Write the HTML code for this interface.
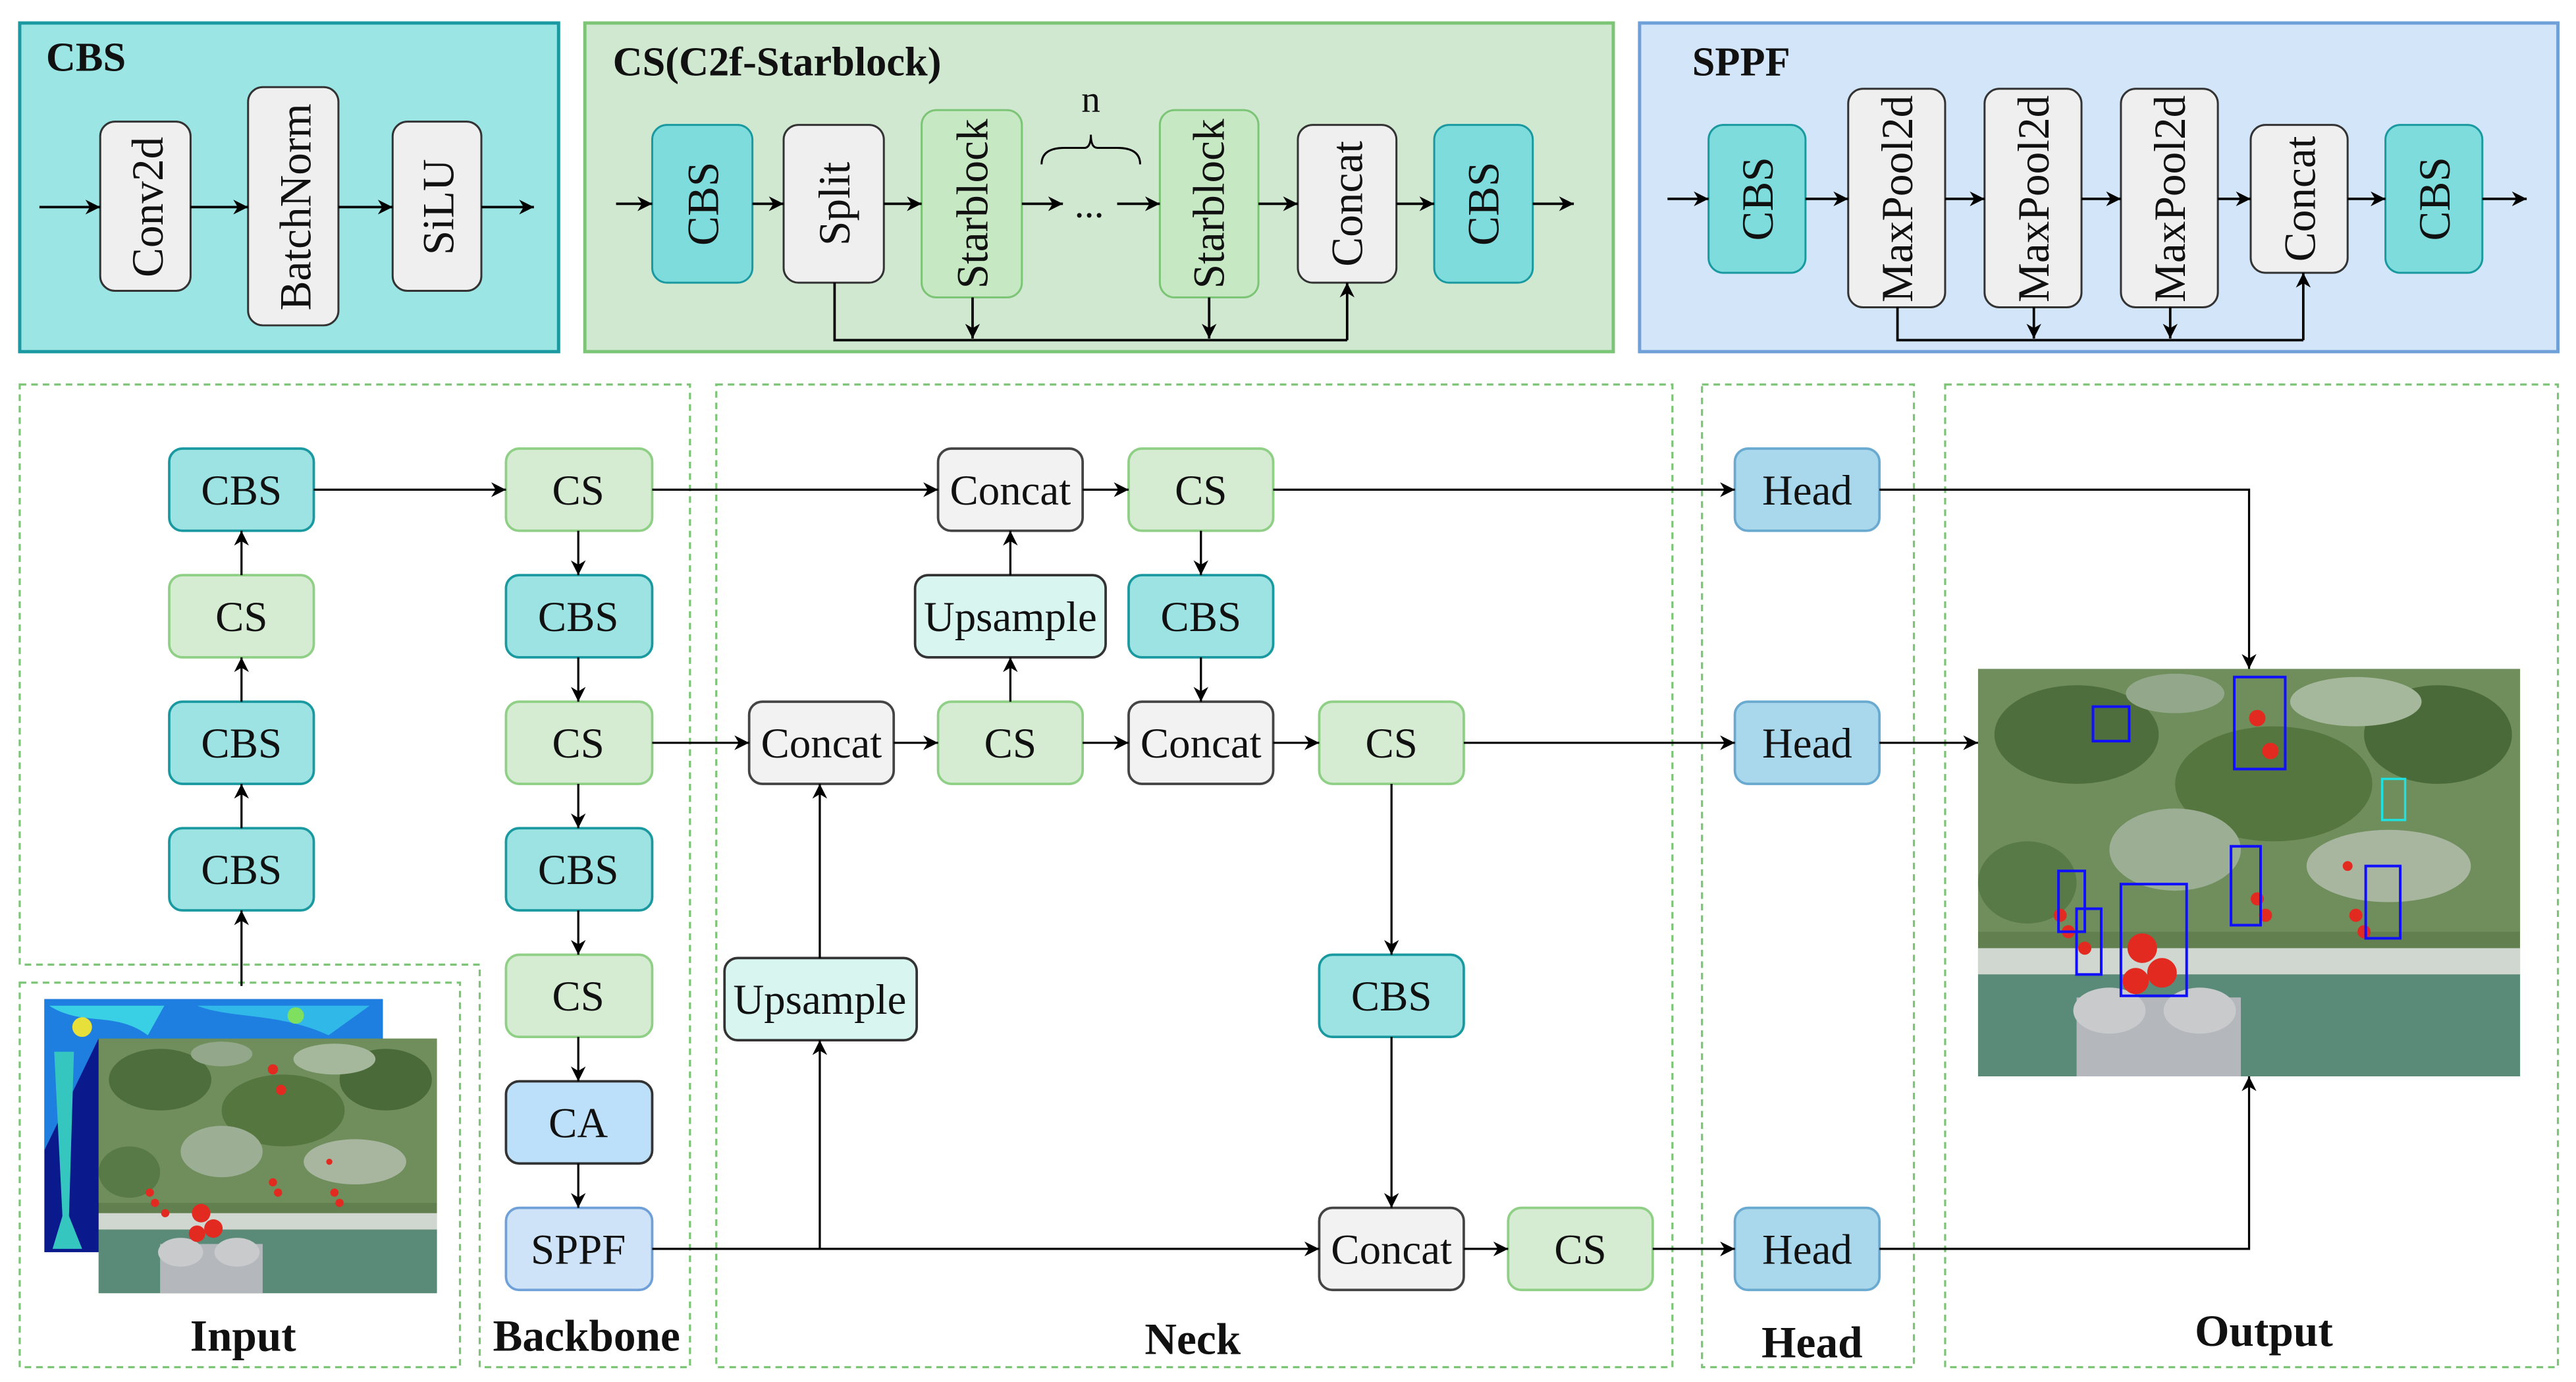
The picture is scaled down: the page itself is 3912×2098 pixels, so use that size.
<!DOCTYPE html>
<html><head><meta charset="utf-8"><style>
html,body{margin:0;padding:0;background:#fff;}
svg{display:block;}
text{font-family:"Liberation Serif","Times New Roman",serif;fill:#111;}
</style></head><body>
<svg width="3912" height="2098" viewBox="0 0 1568 841" preserveAspectRatio="none" xmlns="http://www.w3.org/2000/svg" font-family="Liberation Serif, serif">
<defs>
<marker id="a" viewBox="0 0 10 10" refX="10" refY="5" markerWidth="10" markerHeight="9" markerUnits="userSpaceOnUse" orient="auto"><path d="M0,0 L10,5 L0,10 L3,5 z" fill="#000"/></marker>
<symbol id="photo" viewBox="0 0 330 248" preserveAspectRatio="none">
<rect width="330" height="248" fill="#62804f"/>
<rect width="330" height="160" fill="#6f8e5c"/>
<ellipse cx="60" cy="40" rx="50" ry="30" fill="#4f6e3e"/>
<ellipse cx="180" cy="70" rx="60" ry="35" fill="#56763f"/>
<ellipse cx="280" cy="40" rx="45" ry="30" fill="#4a6a3a"/>
<ellipse cx="120" cy="110" rx="40" ry="25" fill="#9cae94"/>
<ellipse cx="250" cy="120" rx="50" ry="22" fill="#a8b6a0"/>
<ellipse cx="30" cy="130" rx="30" ry="25" fill="#587a46"/>
<ellipse cx="230" cy="20" rx="40" ry="15" fill="#a6b89c"/>
<ellipse cx="120" cy="15" rx="30" ry="12" fill="#93a88a"/>
<rect y="170" width="330" height="16" fill="#d0d6d0"/>
<rect y="186" width="330" height="62" fill="#5a8a78"/>
<rect x="60" y="200" width="100" height="48" fill="#b4b8bc"/>
<ellipse cx="80" cy="208" rx="22" ry="14" fill="#c8cacc"/>
<ellipse cx="135" cy="208" rx="22" ry="14" fill="#c8cacc"/>
<g fill="#e22a20">
<circle cx="100" cy="170" r="9"/><circle cx="112" cy="185" r="9"/><circle cx="96" cy="190" r="8"/>
<circle cx="50" cy="150" r="4"/><circle cx="55" cy="160" r="4"/><circle cx="170" cy="140" r="4"/><circle cx="175" cy="150" r="4"/>
<circle cx="230" cy="150" r="4"/><circle cx="235" cy="160" r="4"/><circle cx="170" cy="30" r="5"/><circle cx="178" cy="50" r="5"/>
<circle cx="65" cy="170" r="4"/><circle cx="225" cy="120" r="3"/></g>
</symbol>
</defs>

<rect x="12" y="14" width="328" height="200" fill="#9ce5e5" stroke="#1a9aa0" stroke-width="2"/>
<rect x="356" y="14" width="626" height="200" fill="#d0e8d0" stroke="#7cc576" stroke-width="2"/>
<rect x="998" y="14" width="559" height="200" fill="#d3e5f9" stroke="#6fa0d8" stroke-width="2"/>
<text x="28" y="43" font-size="25" font-weight="bold">CBS</text>
<text x="373" y="46" font-size="25" font-weight="bold">CS(C2f-Starblock)</text>
<text x="1030" y="46" font-size="25" font-weight="bold">SPPF</text>

<g stroke="#333" stroke-width="1.2">
<rect x="61" y="74" width="55" height="103" rx="9" fill="#efefef"/>
<rect x="151" y="53" width="55" height="145" rx="9" fill="#efefef"/>
<rect x="239" y="74" width="54" height="103" rx="9" fill="#efefef"/>
<rect x="397" y="76" width="61" height="96" rx="9" fill="#7fdcdc" stroke="#1a9aa0"/>
<rect x="477" y="76" width="61" height="96" rx="9" fill="#efefef"/>
<rect x="561" y="67" width="61" height="114" rx="9" fill="#c6e8c2" stroke="#7cc576"/>
<rect x="706" y="67" width="60" height="114" rx="9" fill="#c6e8c2" stroke="#7cc576"/>
<rect x="790" y="76" width="60" height="96" rx="9" fill="#efefef"/>
<rect x="873" y="76" width="60" height="96" rx="9" fill="#7fdcdc" stroke="#1a9aa0"/>
<rect x="1040" y="76" width="59" height="90" rx="9" fill="#7fdcdc" stroke="#1a9aa0"/>
<rect x="1125" y="54" width="59" height="133" rx="9" fill="#efefef"/>
<rect x="1208" y="54" width="59" height="133" rx="9" fill="#efefef"/>
<rect x="1291" y="54" width="59" height="133" rx="9" fill="#efefef"/>
<rect x="1370" y="76" width="59" height="90" rx="9" fill="#efefef"/>
<rect x="1452" y="76" width="59" height="90" rx="9" fill="#7fdcdc" stroke="#1a9aa0"/>
</g>
<g font-size="27" text-anchor="middle">
<text transform="translate(99,126) rotate(-90)">Conv2d</text>
<text transform="translate(189,126) rotate(-90)">BatchNorm</text>
<text transform="translate(276,126) rotate(-90)">SiLU</text>
<text transform="translate(437,124) rotate(-90)">CBS</text>
<text transform="translate(517,124) rotate(-90)">Split</text>
<text transform="translate(601,124) rotate(-90)">Starblock</text>
<text transform="translate(745,124) rotate(-90)">Starblock</text>
<text transform="translate(829,124) rotate(-90)">Concat</text>
<text transform="translate(912,124) rotate(-90)">CBS</text>
<text transform="translate(1079,121) rotate(-90)">CBS</text>
<text transform="translate(1164,121) rotate(-90)">MaxPool2d</text>
<text transform="translate(1247,121) rotate(-90)">MaxPool2d</text>
<text transform="translate(1330,121) rotate(-90)">MaxPool2d</text>
<text transform="translate(1409,121) rotate(-90)">Concat</text>
<text transform="translate(1491,121) rotate(-90)">CBS</text>
</g>
<text x="663" y="132" font-size="24" text-anchor="middle">...</text>
<text x="664" y="68" font-size="23" text-anchor="middle">n</text>
<path d="M634,100 Q634,90 648,90 L660,90 Q664,90 664,82 Q664,90 668,90 L680,90 Q694,90 694,100" fill="none" stroke="#000" stroke-width="1.2"/>

<g stroke="#000" stroke-width="1.5" fill="none" marker-end="url(#a)">
<line x1="24" y1="126" x2="61" y2="126"/><line x1="116" y1="126" x2="151" y2="126"/>
<line x1="206" y1="126" x2="239" y2="126"/><line x1="293" y1="126" x2="325" y2="126"/>
<line x1="375" y1="124" x2="397" y2="124"/><line x1="458" y1="124" x2="477" y2="124"/>
<line x1="538" y1="124" x2="561" y2="124"/><line x1="622" y1="124" x2="647" y2="124"/>
<line x1="680" y1="124" x2="706" y2="124"/><line x1="766" y1="124" x2="790" y2="124"/>
<line x1="850" y1="124" x2="873" y2="124"/><line x1="933" y1="124" x2="958" y2="124"/>
<line x1="592" y1="181" x2="592" y2="206"/><line x1="736" y1="181" x2="736" y2="206"/>
<line x1="820" y1="207" x2="820" y2="172"/>
<line x1="1015" y1="121" x2="1040" y2="121"/><line x1="1099" y1="121" x2="1125" y2="121"/>
<line x1="1184" y1="121" x2="1208" y2="121"/><line x1="1267" y1="121" x2="1291" y2="121"/>
<line x1="1350" y1="121" x2="1370" y2="121"/><line x1="1429" y1="121" x2="1452" y2="121"/>
<line x1="1511" y1="121" x2="1538" y2="121"/>
<line x1="1238" y1="187" x2="1238" y2="206"/><line x1="1321" y1="187" x2="1321" y2="206"/>
<line x1="1402" y1="207" x2="1402" y2="166"/>
</g>
<g stroke="#000" stroke-width="1.5" fill="none">
<polyline points="508,172 508,207 820,207"/>
<polyline points="1155,187 1155,207 1402,207"/>
</g>

<g fill="none" stroke="#7cc576" stroke-width="1.3" stroke-dasharray="4,3">
<path d="M12,234 H420 V832 H292 V587 H12 Z"/>
<rect x="12" y="598" width="268" height="234"/>
<rect x="436" y="234" width="582" height="598"/>
<rect x="1036" y="234" width="129" height="598"/>
<rect x="1184" y="234" width="373" height="598"/>
</g>

<rect x="27" y="608" width="206" height="154" fill="#0a1a8c"/>
<path d="M27,608 H233 V640 C200,650 170,630 140,645 C110,655 80,640 60,632 L27,700 Z" fill="#1f7fe0"/>
<path d="M30,612 C50,625 70,615 90,630 L100,612 Z" fill="#39d0e6"/>
<path d="M120,612 C140,620 170,616 200,630 L225,612 Z" fill="#2fb8e8"/>
<path d="M33,640 L45,640 L42,740 L50,760 L32,760 L38,740 Z" fill="#35c6c0"/>
<circle cx="50" cy="625" r="6" fill="#e8e03a"/><circle cx="180" cy="618" r="5" fill="#7fe060"/>
<use href="#photo" x="60" y="632" width="206" height="155"/>
<use href="#photo" x="1204" y="407" width="330" height="248"/>
<g fill="none" stroke="#1010ff" stroke-width="1.6">
<rect x="1274" y="430" width="22" height="21"/>
<rect x="1360" y="412" width="31" height="56"/>
<rect x="1253" y="530" width="16" height="37"/>
<rect x="1264" y="553" width="15" height="40"/>
<rect x="1291" y="538" width="40" height="68"/>
<rect x="1358" y="515" width="18" height="48"/>
<rect x="1440" y="527" width="21" height="44"/>
</g>
<rect x="1450" y="474" width="14" height="25" fill="none" stroke="#20e0e0" stroke-width="1.4"/>

<g stroke-width="1.5">
<g fill="#9de3e3" stroke="#1a9aa0">
<rect x="103" y="273" width="88" height="50" rx="8"/>
<rect x="103" y="427" width="88" height="50" rx="8"/>
<rect x="103" y="504" width="88" height="50" rx="8"/>
<rect x="308" y="350" width="89" height="50" rx="8"/>
<rect x="308" y="504" width="89" height="50" rx="8"/>
<rect x="687" y="350" width="88" height="50" rx="8"/>
<rect x="803" y="581" width="88" height="50" rx="8"/>
</g>
<g fill="#d5ecd2" stroke="#8fcf86">
<rect x="103" y="350" width="88" height="50" rx="8"/>
<rect x="308" y="273" width="89" height="50" rx="8"/>
<rect x="308" y="427" width="89" height="50" rx="8"/>
<rect x="308" y="581" width="89" height="50" rx="8"/>
<rect x="687" y="273" width="88" height="50" rx="8"/>
<rect x="571" y="427" width="88" height="50" rx="8"/>
<rect x="803" y="427" width="88" height="50" rx="8"/>
<rect x="918" y="735" width="88" height="50" rx="8"/>
</g>
<rect x="308" y="658" width="89" height="50" rx="8" fill="#bde0fa" stroke="#333"/>
<rect x="308" y="735" width="89" height="50" rx="8" fill="#cfe3f8" stroke="#6fa0d8"/>
<g fill="#f2f2f2" stroke="#444">
<rect x="571" y="273" width="88" height="50" rx="8"/>
<rect x="456" y="427" width="88" height="50" rx="8"/>
<rect x="687" y="427" width="88" height="50" rx="8"/>
<rect x="803" y="735" width="88" height="50" rx="8"/>
</g>
<g fill="#d8f5ef" stroke="#333">
<rect x="557" y="350" width="116" height="50" rx="8"/>
<rect x="441" y="583" width="117" height="50" rx="8"/>
</g>
<g fill="#a9d8ec" stroke="#6aaad0">
<rect x="1056" y="273" width="88" height="50" rx="8"/>
<rect x="1056" y="427" width="88" height="50" rx="8"/>
<rect x="1056" y="735" width="88" height="50" rx="8"/>
</g>
</g>
<g font-size="26" text-anchor="middle">
<text x="147" y="307">CBS</text><text x="147" y="384">CS</text><text x="147" y="461">CBS</text><text x="147" y="538">CBS</text>
<text x="352" y="307">CS</text><text x="352" y="384">CBS</text><text x="352" y="461">CS</text><text x="352" y="538">CBS</text>
<text x="352" y="615">CS</text><text x="352" y="692">CA</text><text x="352" y="769">SPPF</text>
<text x="615" y="307">Concat</text><text x="731" y="307">CS</text>
<text x="615" y="384">Upsample</text><text x="731" y="384">CBS</text>
<text x="500" y="461">Concat</text><text x="615" y="461">CS</text><text x="731" y="461">Concat</text><text x="847" y="461">CS</text>
<text x="499" y="617">Upsample</text><text x="847" y="615">CBS</text>
<text x="847" y="769">Concat</text><text x="962" y="769">CS</text>
<text x="1100" y="307">Head</text><text x="1100" y="461">Head</text><text x="1100" y="769">Head</text>
</g>
<g font-size="27" font-weight="bold" text-anchor="middle">
<text x="148" y="822">Input</text><text x="357" y="822">Backbone</text><text x="726" y="824">Neck</text>
<text x="1103" y="826">Head</text><text x="1378" y="819">Output</text>
</g>

<g stroke="#000" stroke-width="1.3" fill="none" marker-end="url(#a)">
<line x1="147" y1="600" x2="147" y2="554"/>
<line x1="147" y1="504" x2="147" y2="477"/>
<line x1="147" y1="427" x2="147" y2="400"/>
<line x1="147" y1="350" x2="147" y2="323"/>
<line x1="191" y1="298" x2="308" y2="298"/>
<line x1="352" y1="323" x2="352" y2="350"/>
<line x1="352" y1="400" x2="352" y2="427"/>
<line x1="352" y1="477" x2="352" y2="504"/>
<line x1="352" y1="554" x2="352" y2="581"/>
<line x1="352" y1="631" x2="352" y2="658"/>
<line x1="352" y1="708" x2="352" y2="735"/>
<line x1="397" y1="298" x2="571" y2="298"/>
<line x1="659" y1="298" x2="687" y2="298"/>
<line x1="775" y1="298" x2="1056" y2="298"/>
<polyline points="1144,298 1369,298 1369,407"/>
<line x1="615" y1="350" x2="615" y2="323"/>
<line x1="615" y1="427" x2="615" y2="400"/>
<line x1="731" y1="323" x2="731" y2="350"/>
<line x1="731" y1="400" x2="731" y2="427"/>
<line x1="397" y1="452" x2="456" y2="452"/>
<line x1="544" y1="452" x2="571" y2="452"/>
<line x1="659" y1="452" x2="687" y2="452"/>
<line x1="775" y1="452" x2="803" y2="452"/>
<line x1="891" y1="452" x2="1056" y2="452"/>
<line x1="1144" y1="452" x2="1204" y2="452"/>
<line x1="847" y1="477" x2="847" y2="581"/>
<line x1="847" y1="631" x2="847" y2="735"/>
<line x1="397" y1="760" x2="803" y2="760"/>
<polyline points="499,760 499,633"/>
<line x1="499" y1="583" x2="499" y2="477"/>
<line x1="891" y1="760" x2="918" y2="760"/>
<line x1="1006" y1="760" x2="1056" y2="760"/>
<polyline points="1144,760 1369,760 1369,655"/>
</g>
</svg>
</body></html>
